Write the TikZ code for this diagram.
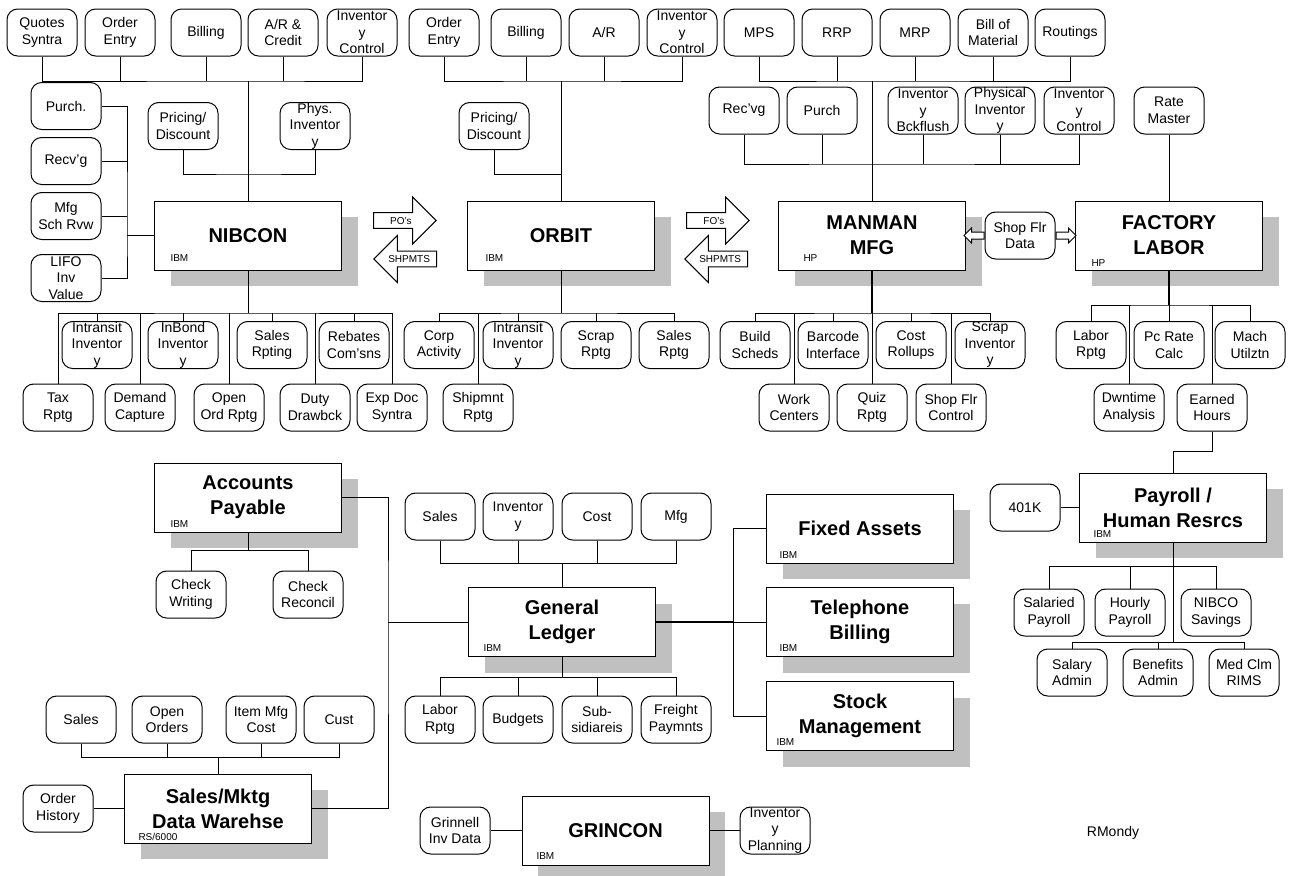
\documentclass[tikz,border=0pt]{standalone}
\usepackage{fontspec}
\setmainfont{Liberation Sans}
\usetikzlibrary{positioning,calc,arrows.meta,shapes.arrows,shadows}
\definecolor{shadowgray}{RGB}{192,192,192}
\tikzset{
  sys/.style={draw, fill=white, minimum width=140.25pt, minimum height=51.75pt,
    align=center, font=\bfseries\fontsize{15}{18.75}\selectfont,
    drop shadow={shadow xshift=12pt, shadow yshift=-12pt, fill=shadowgray, opacity=1}},
  sub/.style={draw, fill=white, rounded corners=8pt, minimum width=52.5pt,
    minimum height=35.25pt, inner sep=0pt, align=center, font=\fontsize{10.5}{12.4}\selectfont},
  plat/.style={anchor=west, inner sep=0pt, font=\fontsize{7.5}{9}\selectfont},
  flow/.style={single arrow, draw, fill=white, anchor=tail, minimum height=47pt,
    single arrow head extend=11.6pt, inner xsep=1.5pt, inner ysep=2.9pt,
    text height=5.4pt, text depth=0pt, font=\fontsize{7.5}{9}\selectfont},
  sfarrow/.style={single arrow, draw, fill=white, anchor=tail, minimum height=15pt,
    single arrow head extend=3pt, inner sep=2.25pt, text height=0pt, text depth=0pt},
  trunk/.style={line width=1.5pt}
}

\begin{document}
\begin{tikzpicture}[x=0.75pt, y=-0.75pt, line width=0.75pt]
    \useasboundingbox (0,0) rectangle (1295,875);

    % main systems
    \node[sys] (nibcon)  at (248,235.5) {NIBCON};
    \node[sys] (orbit)   at (561,235.5) {ORBIT};
    \node[sys] (manman)  at (872,235.5) {MANMAN\\MFG};
    \node[sys] (factory) at (1169,235.5) {FACTORY\\LABOR};
    \node[sys] (ap)      at (248,497.5) {Accounts\\Payable};
    \node[sys] (gl)      at (562,622) {General\\Ledger};
    \node[sys] (fa)      at (860,528.5) {Fixed Assets};
    \node[sys] (tb)      at (860,622) {Telephone\\Billing};
    \node[sys] (sm)      at (860,716) {Stock\\Management};
    \node[sys] (payroll) at (1173,507.5) {Payroll /\\Human Resrcs};
    \node[sys] (sdw)     at (218,808.5) {Sales/Mktg\\Data Warehse};
    \node[sys] (grin)    at (615.5,830.5) {GRINCON};

    % platforms
    \node[plat] (nibconhw)  at (170,258) {IBM};
    \node[plat] (orbithw)   at (485,258) {IBM};
    \node[plat] (manmanhw)  at (803,258) {HP};
    \node[plat] (factoryhw) at (1091,263) {HP};
    \node[plat] (aphw)      at (170,524) {IBM};
    \node[plat] (glhw)      at (483,648) {IBM};
    \node[plat] (fahw)      at (779,555) {IBM};
    \node[plat] (tbhw)      at (779,648) {IBM};
    \node[plat] (smhw)      at (776,742) {IBM};
    \node[plat] (payrollhw) at (1093,534) {IBM};
    \node[plat] (sdwhw)     at (138,837) {RS/6000};
    \node[plat] (grinhw)    at (536,856) {IBM};

    % flows between systems
    \node[flow] (po)  at (373,220.5) {PO's};
    \node[flow, shape border rotate=180] (shp1) at (437,259) {SHPMTS};
    \node[flow] (fo)  at (686,220.5) {FO's};
    \node[flow, shape border rotate=180] (shp2) at (748,259) {SHPMTS};

    % NIBCON modules
    \node[sub] (nqs)  at (42,32.5) {Quotes\\Syntra};
    \node[sub] (noe)  at (120,32.5) {Order\\Entry};
    \node[sub] (nbil) at (206,32.5) {Billing};
    \node[sub] (nar)  at (283,32.5) {A/R \&\\Credit};
    \node[sub] (nic)  at (362,32.5) {Inventor\\y\\Control};
    \node[sub] (npur) at (66,106) {Purch.};
    \node[sub] (nrcv) at (66,161) {Recv'g};
    \node[sub] (nmfg) at (66,216) {Mfg\\Sch Rvw};
    \node[sub] (nlifo) at (66,278) {LIFO\\Inv\\Value};
    \node[sub] (npri) at (183,126) {Pricing/\\Discount};
    \node[sub] (nphy) at (315,126) {Phys.\\Inventor\\y};
    \node[sub] (nit)  at (97,345) {Intransit\\Inventor\\y};
    \node[sub] (nib)  at (183,345) {InBond\\Inventor\\y};
    \node[sub] (nsr)  at (272,345) {Sales\\Rpting};
    \node[sub] (nreb) at (354,345) {Rebates\\Com'sns};
    \node[sub] (ntax) at (58,407.5) {Tax\\Rptg};
    \node[sub] (ndem) at (140,407.5) {Demand\\Capture};
    \node[sub] (nopen) at (229,407.5) {Open\\Ord Rptg};
    \node[sub] (nduty) at (315,407.5) {Duty\\Drawbck};
    \node[sub] (nexp) at (392,407.5) {Exp Doc\\Syntra};

    % ORBIT modules
    \node[sub] (ooe)  at (444,32.5) {Order\\Entry};
    \node[sub] (obil) at (526,32.5) {Billing};
    \node[sub] (oar)  at (604,32.5) {A/R};
    \node[sub] (oic)  at (682,32.5) {Inventor\\y\\Control};
    \node[sub] (opri) at (494,126) {Pricing/\\Discount};
    \node[sub] (ocorp) at (439,345) {Corp\\Activity};
    \node[sub] (oit)  at (518,345) {Intransit\\Inventor\\y};
    \node[sub] (oscr) at (596,345) {Scrap\\Rptg};
    \node[sub] (osal) at (674,345) {Sales\\Rptg};
    \node[sub] (oshp) at (478,407.5) {Shipmnt\\Rptg};

    % MANMAN modules
    \node[sub] (mps)  at (759,32.5) {MPS};
    \node[sub] (rrp)  at (837,32.5) {RRP};
    \node[sub] (mrp)  at (915,32.5) {MRP};
    \node[sub] (bom)  at (993,32.5) {Bill of\\Material};
    \node[sub] (rout) at (1070,32.5) {Routings};
    \node[sub] (mrcv) at (744,110.5) {Rec'vg};
    \node[sub] (mpur) at (822,110.5) {Purch};
    \node[sub] (mbck) at (923,110.5) {Inventor\\y\\Bckflush};
    \node[sub] (mphy) at (1000,110.5) {Physical\\Inventor\\y};
    \node[sub] (mic)  at (1079,110.5) {Inventor\\y\\Control};
    \node[sub] (mbld) at (755,345) {Build\\Scheds};
    \node[sub] (mbar) at (833,345) {Barcode\\Interface};
    \node[sub] (mcost) at (911,345) {Cost\\Rollups};
    \node[sub] (mscr) at (990,345) {Scrap\\Inventor\\y};
    \node[sub] (mwork) at (794,407.5) {Work\\Centers};
    \node[sub] (mquiz) at (872,407.5) {Quiz\\Rptg};
    \node[sub] (msfc) at (951,407.5) {Shop Flr\\Control};

    % shop floor data
    \node[sub] (sfd) at (1020,235.5) {Shop Flr\\Data};
    \node[sfarrow, shape border rotate=180] (sfleft) at (sfd.west) {};
    \node[sfarrow] (sfright) at (sfd.east) {};

    % FACTORY LABOR modules
    \node[sub] (rate) at (1169,110.5) {Rate\\Master};
    \node[sub] (flab) at (1091,345) {Labor\\Rptg};
    \node[sub] (fpc)  at (1169,345) {Pc Rate\\Calc};
    \node[sub] (fmach) at (1250,345) {Mach\\Utilztn};
    \node[sub] (fdwn) at (1129,407.5) {Dwntime\\Analysis};
    \node[sub] (fearn) at (1212,407.5) {Earned\\Hours};

    % Payroll modules
    \node[sub] (p401) at (1025,507.5) {401K};
    \node[sub] (psal) at (1049,612.5) {Salaried\\Payroll};
    \node[sub] (phr)  at (1130,612.5) {Hourly\\Payroll};
    \node[sub] (pnib) at (1216,612.5) {NIBCO\\Savings};
    \node[sub] (psa)  at (1072,672.5) {Salary\\Admin};
    \node[sub] (pben) at (1158,672.5) {Benefits\\Admin};
    \node[sub] (pmed) at (1244,672.5) {Med Clm\\RIMS};

    % Accounts Payable modules
    \node[sub] (chkw) at (191,594.5) {Check\\Writing};
    \node[sub] (chkr) at (308,594.5) {Check\\Reconcil};

    % General Ledger modules
    \node[sub] (gsal)  at (440,516.5) {Sales};
    \node[sub] (ginv)  at (518,516.5) {Inventor\\y};
    \node[sub] (gcost) at (597,516.5) {Cost};
    \node[sub] (gmfg)  at (676,516.5) {Mfg};
    \node[sub] (glab)  at (440,719.5) {Labor\\Rptg};
    \node[sub] (gbud)  at (518,719.5) {Budgets};
    \node[sub] (gsub)  at (597,719.5) {Sub-\\sidiareis};
    \node[sub] (gfre)  at (676,719.5) {Freight\\Paymnts};

    % data warehouse modules
    \node[sub] (dsal)  at (81,719.5) {Sales};
    \node[sub] (dopen) at (167,719.5) {Open\\Orders};
    \node[sub] (ditem) at (261,719.5) {Item Mfg\\Cost};
    \node[sub] (dcust) at (339,719.5) {Cust};
    \node[sub] (dhist) at (58,808.5) {Order\\History};

    % GRINCON modules
    \node[sub] (ginvd) at (455,830.5) {Grinnell\\Inv Data};
    \node[sub] (gplan) at (775,830.5) {Inventor\\y\\Planning};

    \node[font=\fontsize{10.5}{12.4}\selectfont] (author) at (1113,833) {RMondy};

    % bus points
    \coordinate (nbus) at (248,81);
    \coordinate (npp)  at (248,174);
    \coordinate (nleft) at (127,235.5);
    \coordinate (nbot) at (248,313);
    \coordinate (obus) at (561,81);
    \coordinate (opp)  at (561,174);
    \coordinate (obot) at (561,313);
    \coordinate (mtop) at (872,81);
    \coordinate (mmid) at (872,164);
    \coordinate (mbot) at (872,313);
    \coordinate (fbot) at (1169,305);
    \coordinate (pjog) at (1212,451);
    \coordinate (pbus) at (1173,566);
    \coordinate (pbot) at (1173,642);
    \coordinate (apb)  at (248,550);
    \coordinate (spine) at (388,622);
    \coordinate (gtop) at (562,563);
    \coordinate (gbot) at (562,677);
    \coordinate (gright) at (733,622);
    \coordinate (dbus) at (218,757);

    % NIBCON
    \draw (nqs.south) |- (nbus) -| (nic.south);
    \foreach \n in {noe,nbil,nar} \draw (\n.south) -- (\n.south |- nbus);
    \draw (nbus) -- (nibcon.north);
    \draw (npri.south) |- (npp) -| (nphy.south);
    \draw (npur.east) -| (nleft) |- (nlifo.east);
    \foreach \n in {nrcv,nmfg} \draw (\n.east) -- (\n.east -| nleft);
    \draw (nleft) -- (nibcon.west);
    \draw (nibcon.south) -- (nbot);
    \draw (ntax.north) |- (nbot) -| (nexp.north);
    \foreach \n in {nit,nib,nsr,nreb,ndem,nopen,nduty} \draw (\n.north) -- (\n.north |- nbot);

    % ORBIT
    \draw (ooe.south) |- (obus) -| (oic.south);
    \foreach \n in {obil,oar} \draw (\n.south) -- (\n.south |- obus);
    \draw (obus) -- (orbit.north);
    \draw (opri.south) |- (opp);
    \draw (orbit.south) -- (obot);
    \draw (ocorp.north) |- (obot) -| (osal.north);
    \foreach \n in {oit,oscr,oshp} \draw (\n.north) -- (\n.north |- obot);

    % MANMAN
    \draw (mps.south) |- (mtop) -| (rout.south);
    \foreach \n in {rrp,mrp,bom} \draw (\n.south) -- (\n.south |- mtop);
    \draw (mrcv.south) |- (mmid) -| (mic.south);
    \foreach \n in {mpur,mbck,mphy} \draw (\n.south) -- (\n.south |- mmid);
    \draw (mtop) -- (manman.north);
    \draw[trunk] (manman.south) -- (mbot);
    \draw (mbld.north) |- (mbot) -| (mscr.north);
    \foreach \n in {mbar,mcost,mwork,mquiz,msfc} \draw (\n.north) -- (\n.north |- mbot);

    % FACTORY LABOR
    \draw (rate.south) -- (factory.north);
    \draw[trunk] (factory.south) -- (fbot);
    \draw (flab.north) |- (fbot) -| (fmach.north);
    \foreach \n in {fpc,fdwn,fearn} \draw (\n.north) -- (\n.north |- fbot);
    \draw (fearn.south) -- (pjog) -| (payroll.north);

    % Payroll
    \draw (p401.east) -- (payroll.west);
    \draw (payroll.south) -- (pbot);
    \draw (psal.north) |- (pbus) -| (pnib.north);
    \draw (phr.north) -- (phr.north |- pbus);
    \draw (psa.north) |- (pbot) -| (pmed.north);
    \draw (pben.north) -- (pben.north |- pbot);

    % Accounts Payable
    \draw (ap.south) -- (apb);
    \draw (chkw.north) |- (apb) -| (chkr.north);
    \draw (ap.east) -| (spine) |- (sdw.east);
    \draw (spine) -- (gl.west);

    % General Ledger
    \draw (gsal.south) |- (gtop) -| (gmfg.south);
    \foreach \n in {ginv,gcost} \draw (\n.south) -- (\n.south |- gtop);
    \draw (gtop) -- (gl.north);
    \draw (gl.south) -- (gbot);
    \draw (glab.north) |- (gbot) -| (gfre.north);
    \foreach \n in {gbud,gsub} \draw (\n.north) -- (\n.north |- gbot);
    \draw[trunk] (gl.east) -- (gright);
    \draw (fa.west) -| (gright) |- (sm.west);
    \draw (gright) -- (tb.west);

    % data warehouse
    \draw (sdw.north) -- (dbus);
    \draw (dsal.south) |- (dbus) -| (dcust.south);
    \foreach \n in {dopen,ditem} \draw (\n.south) -- (\n.south |- dbus);
    \draw (dhist.east) -- (sdw.west);

    % GRINCON
    \draw (ginvd.east) -- (grin.west);
    \draw (grin.east) -- (gplan.west);

\end{tikzpicture}
\end{document}
